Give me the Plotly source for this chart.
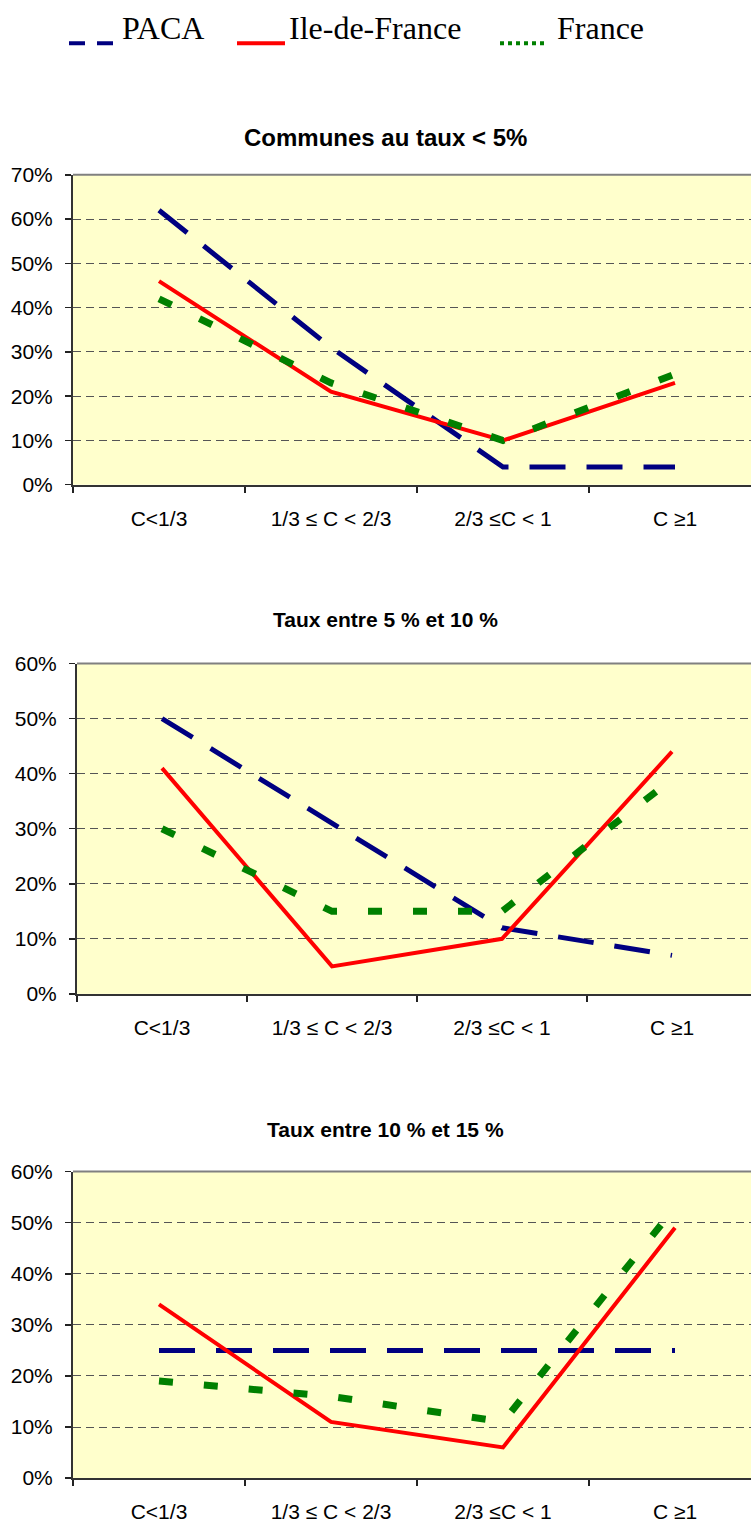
import plotly.graph_objects as go

# ---------------- data ----------------
categories = ["C<1/3", "1/3 ≤ C < 2/3", "2/3 ≤C < 1", "C ≥1"]
series_names = ["PACA", "Ile-de-France", "France"]
titles = ["Communes au taux &lt; 5%", "Taux entre 5 % et 10 %", "Taux entre 10 % et 15 %"]

paca_lt5 = [0.62, 0.31, 0.04, 0.04]
idf_lt5 = [0.46, 0.21, 0.10, 0.23]
france_lt5 = [0.42, 0.23, 0.10, 0.25]

paca_5_10 = [0.50, 0.31, 0.12, 0.07]
idf_5_10 = [0.41, 0.05, 0.10, 0.44]
france_5_10 = [0.30, 0.15, 0.15, 0.39]

paca_10_15 = [0.25, 0.25, 0.25, 0.25]
idf_10_15 = [0.34, 0.11, 0.06, 0.49]
france_10_15 = [0.19, 0.16, 0.11, 0.53]

y_max = [0.7, 0.6, 0.6]

panels_data = [
    [paca_lt5, idf_lt5, france_lt5],
    [paca_5_10, idf_5_10, france_5_10],
    [paca_10_15, idf_10_15, france_10_15],
]

# ---------------- styles ----------------
W, H = 751, 1523
line_styles = [
    dict(color="#000080", width=5, dash="36px,21px"),
    dict(color="#FF0000", width=4, dash="solid"),
    dict(color="#008000", width=7, dash="14px,31px"),
]
# panel geometry (target pixel positions in the final picture)
panels_px = [
    dict(x0=73, top=173.3, bottom=484, step=172, title_y=137, title_size=24),
    dict(x0=77, top=663.3, bottom=994.5, step=170, title_y=621, title_size=21),
    dict(x0=73, top=1172.7, bottom=1480, step=172, title_y=1132, title_size=21),
]

# the captured page is slightly squeezed vertically; compensate
V_OFF, V_SCALE = 10.0, 0.9862

def px_x(x):
    return x / W

def px_y(y):
    yf = (y - V_OFF) / V_SCALE
    return 1 - yf / H

fig = go.Figure()
annotations = []
shapes = []
layout_axes = {}

for i, (pdata, geo) in enumerate(zip(panels_data, panels_px)):
    sfx = "" if i == 0 else str(i + 1)
    xa, ya = "x" + sfx, "y" + sfx
    for name, vals, st in zip(series_names, pdata, line_styles):
        fig.add_trace(go.Scatter(
            x=categories, y=vals, mode="lines", name=name,
            line=dict(color=st["color"], width=st["width"], dash=st["dash"]),
            xaxis=xa, yaxis=ya, showlegend=False, hoverinfo="skip",
        ))
    x_end = -0.5 + (W - geo["x0"]) / geo["step"]
    layout_axes["xaxis" + sfx] = dict(
        domain=[px_x(geo["x0"]), 1], anchor=ya, type="category",
        range=[-0.5, x_end], tickson="boundaries", ticks="outside", ticklen=6,
        tickwidth=1.5, tickcolor="#222222", showline=True, linecolor="#333333",
        linewidth=2, showgrid=False, zeroline=False,
        tickfont=dict(family="Liberation Sans", size=21, color="black"),
        ticklabelstandoff=14,
    )
    layout_axes["yaxis" + sfx] = dict(
        domain=[px_y(geo["bottom"]), px_y(geo["top"])], anchor=xa,
        range=[0, y_max[i]], dtick=0.1, tickformat=".0%", ticks="outside",
        ticklen=6, tickwidth=1.5, tickcolor="#222222", showline=True,
        linecolor="#333333", linewidth=2, showgrid=True, gridcolor="#555555",
        gridwidth=1, griddash="8px,5px", zeroline=False,
        tickfont=dict(family="Liberation Sans", size=21, color="black"),
        ticklabelstandoff=8,
    )
    # top border of the plot area
    shapes.append(dict(type="line", xref=xa + " domain", yref=ya + " domain",
                       x0=0, x1=1, y0=1, y1=1,
                       line=dict(color="#808080", width=2)))
    annotations.append(dict(
        text="<b>" + titles[i] + "</b>", xref="paper", yref="paper",
        x=px_x(385), y=px_y(geo["title_y"] - 1.5), xanchor="center", yanchor="middle",
        showarrow=False,
        font=dict(family="Liberation Sans", size=geo["title_size"], color="black"),
    ))

# ---------------- manual legend ----------------
legend_sym = [(69, 113, 41.3), (237, 285, 41.3), (500, 546, 41.3)]
legend_dash = ["16px,12px", "solid", "4px,4px"]
legend_text_x = [120, 287, 555]
for name, st, (lx0, lx1, ly), dsh, tx in zip(series_names, line_styles, legend_sym,
                                              legend_dash, legend_text_x):
    shapes.append(dict(type="line", xref="paper", yref="paper",
                       x0=px_x(lx0), x1=px_x(lx1), y0=px_y(ly), y1=px_y(ly),
                       line=dict(color=st["color"], width=4, dash=dsh)))
    annotations.append(dict(
        text=name, xref="paper", yref="paper", x=px_x(tx), y=px_y(26),
        xanchor="left", yanchor="middle", showarrow=False,
        font=dict(family="Liberation Serif", size=32, color="black"),
    ))

fig.update_layout(
    width=W, height=H, autosize=False,
    margin=dict(l=0, r=0, t=0, b=0),
    paper_bgcolor="white", plot_bgcolor="#FFFFCC",
    annotations=annotations, shapes=shapes,
    showlegend=False, hovermode=False,
    **layout_axes,
)

post = ("document.body.style.margin='0';document.body.style.overflow='hidden';"
        "var d=document.getElementById('{plot_id}');"
        "d.style.position='absolute';d.style.left='0px';d.style.top='0px';")
fig.write_html("out.html", post_script=post,
               config={"displayModeBar": False, "staticPlot": True})
